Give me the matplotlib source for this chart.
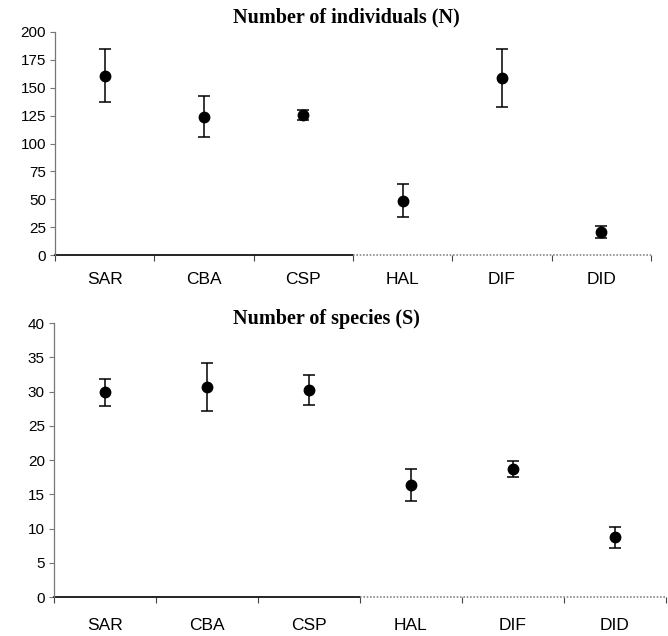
import matplotlib
matplotlib.use("Agg")
import matplotlib.pyplot as plt
import numpy as np

categories = ["SAR", "CBA", "CSP", "HAL", "DIF", "DID"]

n_mean = [160.5, 124.2, 125.4, 48.4, 158.5, 20.3]
n_upper = [184.5, 143.0, 130.4, 63.3, 184.5, 26.3]
n_lower = [137.0, 105.7, 120.9, 34.3, 132.5, 15.5]

s_mean = [30.0, 30.7, 30.3, 16.3, 18.7, 8.7]
s_upper = [31.9, 34.1, 32.4, 18.7, 19.9, 10.2]
s_lower = [27.9, 27.2, 28.1, 14.0, 17.5, 7.1]

n_ticks = [0, 25, 50, 75, 100, 125, 150, 175, 200]
s_ticks = [0, 5, 10, 15, 20, 25, 30, 35, 40]

fig = plt.figure(figsize=(6.68, 6.36), dpi=100)

def panel(rect, mean, upper, lower, yticks, title, title_x, title_y, xpad):
    ax = fig.add_axes(rect)
    x = np.arange(len(categories)) + 0.5
    mean = np.array(mean)
    yerr = [mean - np.array(lower), np.array(upper) - mean]
    ax.errorbar(x, mean, yerr=yerr, fmt='o', color='black', markersize=7.5,
                elinewidth=1.1, capsize=4.5, capthick=1.1, zorder=3)
    ax.set_xlim(0, len(categories))
    ax.set_ylim(yticks[0], yticks[-1])
    ax.set_yticks(yticks)
    ax.set_yticklabels([str(t) for t in yticks], family="Liberation Sans", fontsize=11)
    ax.set_xticks(np.arange(len(categories) + 1))
    ax.set_xticklabels([])
    ax.set_xticks(x, minor=True)
    ax.set_xticklabels(categories, minor=True, family="Liberation Sans", fontsize=12.5)
    ax.tick_params(axis='x', which='major', length=4, width=0.8, color='#444444', direction='out')
    ax.tick_params(axis='x', which='minor', length=0, pad=xpad)
    ax.tick_params(axis='y', length=3.5, width=0.8, color='#777777', pad=3)
    for s in ['top', 'right', 'bottom']:
        ax.spines[s].set_visible(False)
    ax.spines['left'].set_color('#777777')
    ax.spines['left'].set_linewidth(0.9)
    ax.plot([0, 3], [yticks[0], yticks[0]], color='black', lw=1.2, clip_on=False, zorder=2)
    ax.plot([3, 6], [yticks[0], yticks[0]], color='#888888', lw=1.2, ls=(0, (1, 1)), clip_on=False, zorder=2)
    fig.text(title_x, title_y, title, family="Liberation Serif",
             fontweight='bold', fontsize=14.5, ha='center', va='center')
    return ax

panel([0.0823, 0.599, 0.8923, 0.3507], n_mean, n_upper, n_lower, n_ticks,
      "Number of individuals (N)", 0.518, 0.972, 12)
panel([0.0808, 0.0613, 0.916, 0.4307], s_mean, s_upper, s_lower, s_ticks,
      "Number of species (S)", 0.488, 0.498, 15)

fig.savefig("out.png", dpi=100)
